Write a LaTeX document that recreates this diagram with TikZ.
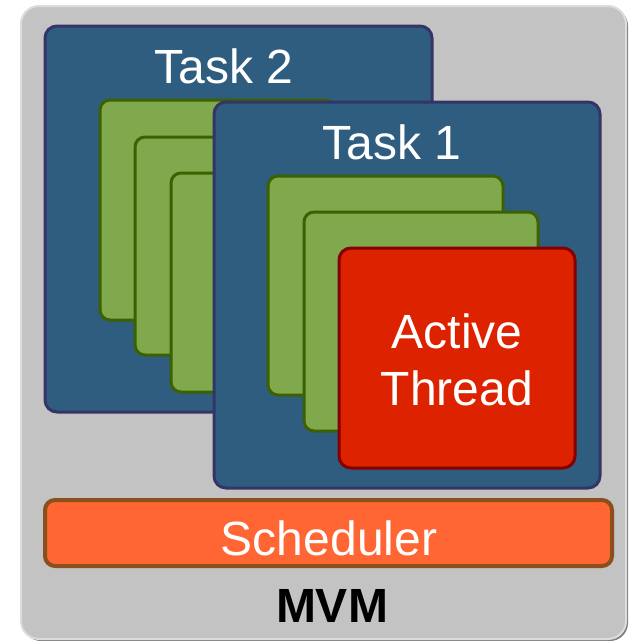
\documentclass[tikz,border=0pt]{standalone}
\usepackage{fontspec}
\setmainfont{Liberation Sans}
\definecolor{panelgray}{HTML}{C3C3C3}
\definecolor{panellight}{HTML}{DCDCDC}
\definecolor{panelshade}{HTML}{7E7E7E}
\definecolor{taskfill}{HTML}{2E5D7F}
\definecolor{taskline}{HTML}{343468}
\definecolor{threadfill}{HTML}{80A84C}
\definecolor{threadline}{HTML}{3B6100}
\definecolor{activefill}{HTML}{DD2200}
\definecolor{activeline}{HTML}{850000}
\definecolor{schedfill}{HTML}{FF6633}
\definecolor{schedline}{HTML}{8A501C}
\tikzset{
  taskbox/.style={fill=taskfill, draw=taskline, line width=3pt, rounded corners=12pt},
  threadbox/.style={fill=threadfill, draw=threadline, line width=3pt, rounded corners=10pt},
  activebox/.style={fill=activefill, draw=activeline, line width=3pt, rounded corners=12pt},
  schedbox/.style={fill=schedfill, draw=schedline, line width=4pt, rounded corners=10pt},
  label/.style={font=\fontsize{48}{57}\selectfont, text=white, inner sep=0pt, anchor=base},
}
\begin{document}
\begin{tikzpicture}[x=1pt, y=-1pt]
\useasboundingbox (0,0) rectangle (629,641);
% MVM panel with a soft shadow on the right and bottom
\fill[panelshade, rounded corners=18pt] (23,8) rectangle (628,641);
\fill[panelgray, draw=panellight, line width=2pt, rounded corners=18pt] (21,6) rectangle (626,639);
% Task 2 and its threads
\draw[taskbox] (45,26) rectangle (432,412);
\draw[threadbox] (100,100) rectangle (335,320);
\draw[threadbox] (135,137) rectangle (370,355);
\draw[threadbox] (171,173) rectangle (406,392);
% Task 1 and its threads
\draw[taskbox] (214,102) rectangle (600,488);
\draw[threadbox] (268,176) rectangle (503,395);
\draw[threadbox] (304,212) rectangle (538,431);
\draw[activebox] (339,248) rectangle (575,468);
% Scheduler bar
\draw[schedbox] (45,500) rectangle (612,566);
% Labels
\node[label] (task2) at (224,83) {Task 2};
\node[label] (task1) at (392,159) {Task 1};
\node[label] (active) at (457,348) {Active};
\node[label] (thread) at (457,405) {Thread};
\node[label] (sched) at (329,555) {Scheduler};
\node[label, text=black, font=\fontsize{48}{57}\selectfont\bfseries] (mvm) at (332,622) {MVM};
\end{tikzpicture}
\end{document}
